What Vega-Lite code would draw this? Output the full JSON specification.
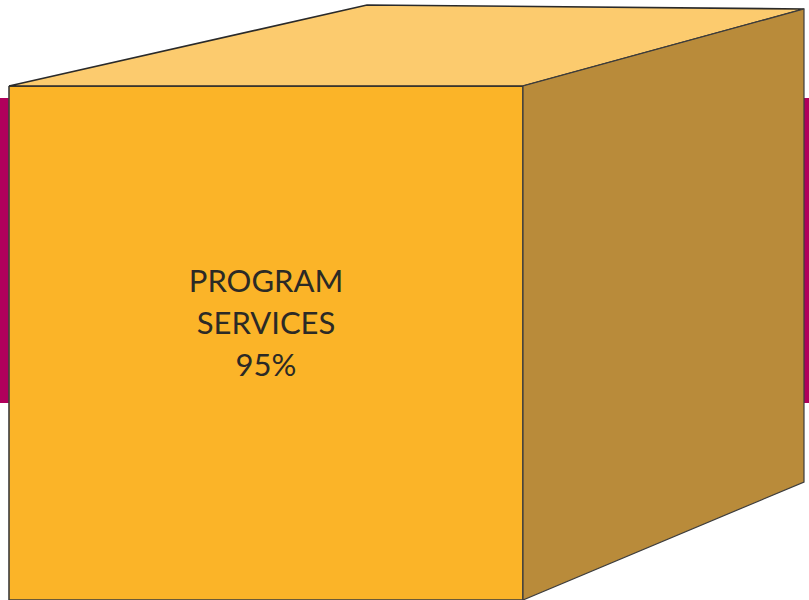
{
  "$schema": "https://vega.github.io/schema/vega-lite/v6.json",
  "autosize": {"type": "fit", "contains": "padding"},
  "width": 809,
  "height": 600,
  "padding": 0,
  "background": "#ffffff",
  "config": {"view": {"stroke": null}},
  "datasets": {
    "band": [{"x": 0, "x2": 809, "y": 98, "y2": 403}],
    "faces": [
      {"face": "front", "ord": 1, "x": 9, "y": 86},
      {"face": "front", "ord": 2, "x": 523, "y": 86},
      {"face": "front", "ord": 3, "x": 523, "y": 600},
      {"face": "front", "ord": 4, "x": 9, "y": 600},
      {"face": "front", "ord": 5, "x": 9, "y": 86},
      {"face": "top", "ord": 1, "x": 9, "y": 86},
      {"face": "top", "ord": 2, "x": 367, "y": 5},
      {"face": "top", "ord": 3, "x": 804, "y": 9},
      {"face": "top", "ord": 4, "x": 523, "y": 86},
      {"face": "top", "ord": 5, "x": 9, "y": 86},
      {"face": "side", "ord": 1, "x": 523, "y": 86},
      {"face": "side", "ord": 2, "x": 804, "y": 9},
      {"face": "side", "ord": 3, "x": 804, "y": 482},
      {"face": "side", "ord": 4, "x": 523, "y": 600},
      {"face": "side", "ord": 5, "x": 523, "y": 86}
    ],
    "labels": [{"label": "PROGRAM\nSERVICES\n95%", "x": 266, "y": 283}]
  },
  "encoding": {
    "x": {"field": "x", "type": "quantitative", "scale": {"domain": [0, 809], "nice": false, "zero": false}, "axis": null},
    "y": {"field": "y", "type": "quantitative", "scale": {"domain": [0, 600], "nice": false, "zero": false, "reverse": true}, "axis": null}
  },
  "layer": [
    {
      "data": {"name": "band"},
      "mark": {"type": "rect", "color": "#B0005C"},
      "encoding": {
        "x2": {"field": "x2"},
        "y2": {"field": "y2"}
      }
    },
    {
      "data": {"name": "faces"},
      "transform": [{"filter": "datum.face === 'front'"}],
      "mark": {"type": "line", "fill": "#FBB428", "stroke": "#3d3d3d", "strokeWidth": 1.6, "strokeJoin": "miter", "clip": true},
      "encoding": {"order": {"field": "ord", "type": "quantitative"}}
    },
    {
      "data": {"name": "faces"},
      "transform": [{"filter": "datum.face === 'top'"}],
      "mark": {"type": "line", "fill": "#FCCB6E", "stroke": "#2a2a2a", "strokeWidth": 1.6, "strokeJoin": "miter", "clip": true},
      "encoding": {"order": {"field": "ord", "type": "quantitative"}}
    },
    {
      "data": {"name": "faces"},
      "transform": [{"filter": "datum.face === 'side'"}],
      "mark": {"type": "line", "fill": "#B98B3A", "stroke": "#3d3d3d", "strokeWidth": 1.2, "strokeJoin": "miter", "clip": true},
      "encoding": {"order": {"field": "ord", "type": "quantitative"}}
    },
    {
      "data": {"name": "labels"},
      "mark": {"type": "text", "lineBreak": "\n", "lineHeight": 42, "font": "Lato", "fontSize": 31, "color": "#2b2a26", "align": "center", "baseline": "middle"},
      "encoding": {"text": {"field": "label"}}
    }
  ]
}
